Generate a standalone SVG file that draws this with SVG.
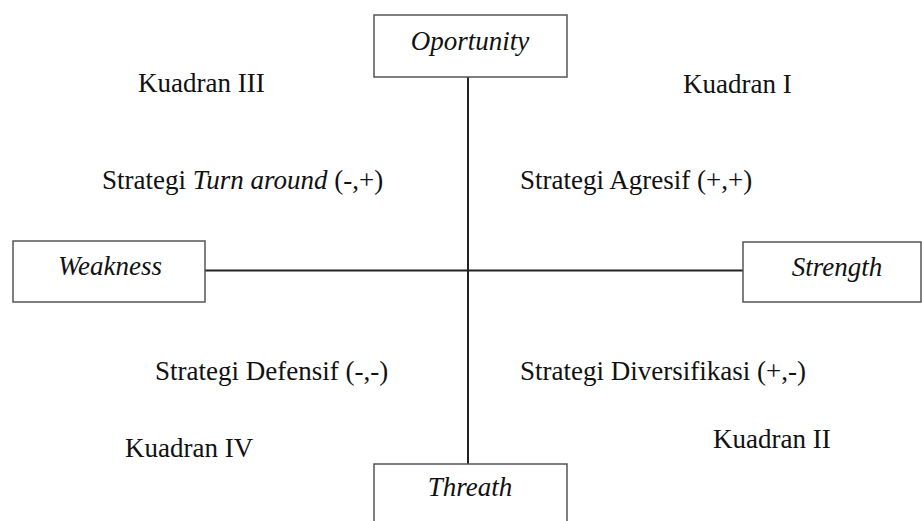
<svg xmlns="http://www.w3.org/2000/svg" width="922" height="521" viewBox="0 0 922 521">
<rect width="922" height="521" fill="#fff"/>
<g id="connectors" stroke="#222" stroke-width="2" fill="none">
<line x1="468" y1="77" x2="468" y2="464"/>
<line x1="205" y1="270.5" x2="743" y2="270.5"/>
</g>
<g id="opportunity"><rect fill="#fff" stroke="#555" stroke-width="1.5" x="374" y="15" width="193" height="62"/><text style="font-family:'Liberation Serif',serif;font-size:27px;font-style:italic" fill="#111" x="470" y="50" text-anchor="middle">Oportunity</text></g>
<g id="weakness"><rect fill="#fff" stroke="#555" stroke-width="1.5" x="13" y="241" width="192" height="61"/><text style="font-family:'Liberation Serif',serif;font-size:27px;font-style:italic" fill="#111" x="110" y="275" text-anchor="middle">Weakness</text></g>
<g id="strength"><rect fill="#fff" stroke="#555" stroke-width="1.5" x="743" y="242" width="178" height="60"/><text style="font-family:'Liberation Serif',serif;font-size:27px;font-style:italic" fill="#111" x="837" y="276" text-anchor="middle">Strength</text></g>
<g id="threath"><rect fill="#fff" stroke="#555" stroke-width="1.5" x="374" y="464" width="193" height="62"/><text style="font-family:'Liberation Serif',serif;font-size:27px;font-style:italic" fill="#111" x="470" y="496" text-anchor="middle">Threath</text></g>
<g id="labels">
<text style="font-family:'Liberation Serif',serif;font-size:27px" fill="#111" x="138" y="92">Kuadran III</text>
<text style="font-family:'Liberation Serif',serif;font-size:27px" fill="#111" x="683" y="93">Kuadran I</text>
<text style="font-family:'Liberation Serif',serif;font-size:27px" fill="#111" x="102" y="189">Strategi <tspan style="font-style:italic">Turn around</tspan> (-,+)</text>
<text style="font-family:'Liberation Serif',serif;font-size:27px" fill="#111" x="520" y="189">Strategi Agresif (+,+)</text>
<text style="font-family:'Liberation Serif',serif;font-size:27px" fill="#111" x="155" y="380">Strategi Defensif (-,-)</text>
<text style="font-family:'Liberation Serif',serif;font-size:27px" fill="#111" x="520" y="380">Strategi Diversifikasi (+,-)</text>
<text style="font-family:'Liberation Serif',serif;font-size:27px" fill="#111" x="125" y="457">Kuadran IV</text>
<text style="font-family:'Liberation Serif',serif;font-size:27px" fill="#111" x="713" y="448">Kuadran II</text>
</g>
</svg>
